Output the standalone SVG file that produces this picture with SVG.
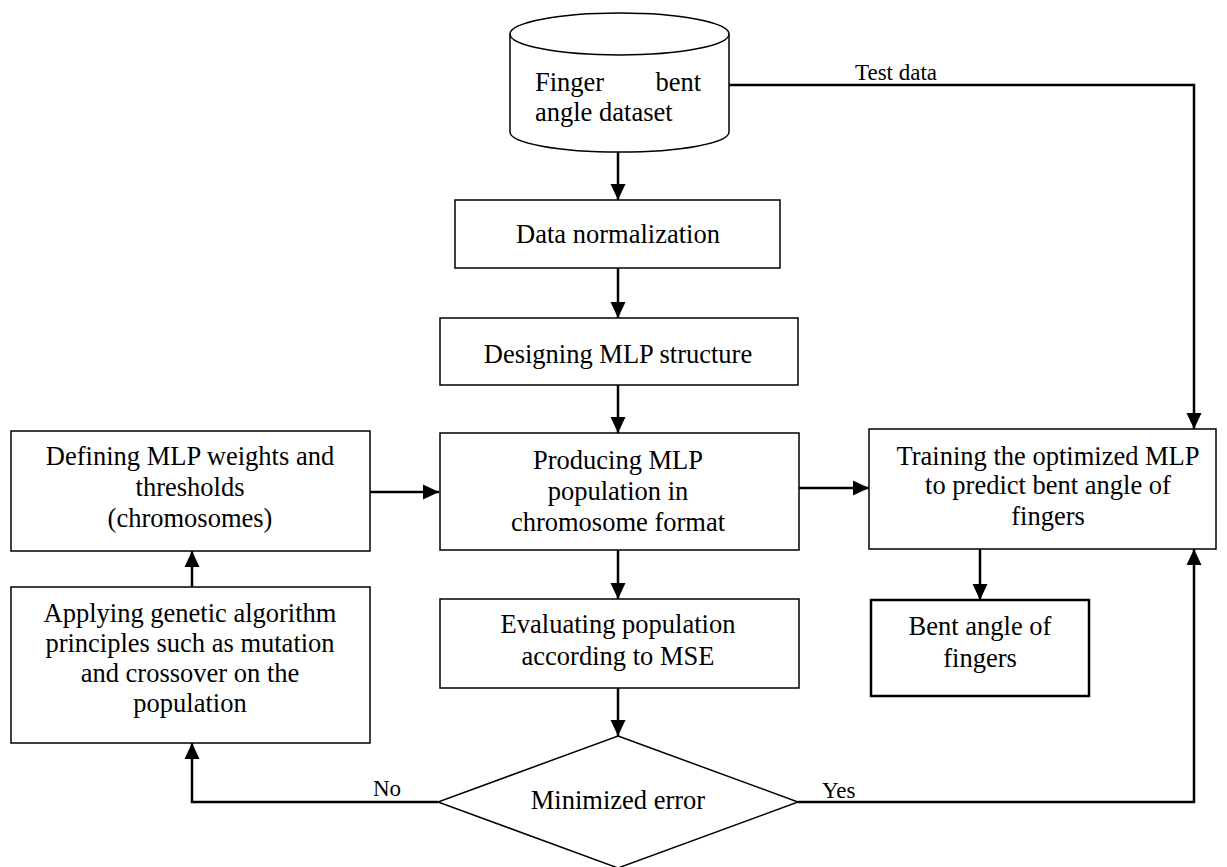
<svg xmlns="http://www.w3.org/2000/svg" width="1227" height="867" viewBox="0 0 1227 867">
<style>
.box{fill:#fff;stroke:#000;stroke-width:1.5}
.thick{stroke-width:2.5}
.t{font-family:"Liberation Serif","Times New Roman",serif;font-size:26.5px;fill:#000;text-anchor:middle}
.l{font-family:"Liberation Serif","Times New Roman",serif;font-size:23px;fill:#000}
.c{fill:none;stroke:#000;stroke-width:2.5}
</style>
<defs>
<marker id="ah" markerUnits="userSpaceOnUse" markerWidth="16" markerHeight="16" refX="16" refY="8" orient="auto">
<path d="M0,0.5 L16,8 L0,15.5 z" fill="#000"/>
</marker>
</defs>
<rect width="1227" height="867" fill="#fff"/>
<g id="connectors">
<line class="c" x1="618" y1="152" x2="618" y2="200" marker-end="url(#ah)"/>
<line class="c" x1="618" y1="268" x2="618" y2="318" marker-end="url(#ah)"/>
<line class="c" x1="618" y1="385" x2="618" y2="433" marker-end="url(#ah)"/>
<line class="c" x1="370" y1="492" x2="439" y2="492" marker-end="url(#ah)"/>
<line class="c" x1="192" y1="587" x2="192" y2="551" marker-end="url(#ah)"/>
<line class="c" x1="799" y1="488" x2="869" y2="488" marker-end="url(#ah)"/>
<line class="c" x1="618" y1="550" x2="618" y2="599" marker-end="url(#ah)"/>
<line class="c" x1="618" y1="688" x2="618" y2="736" marker-end="url(#ah)"/>
<line class="c" x1="980" y1="549" x2="980" y2="600" marker-end="url(#ah)"/>
<polyline class="c" points="729,85 1194,85 1194,429" marker-end="url(#ah)"/>
<polyline class="c" points="438,802 192,802 192,743" marker-end="url(#ah)"/>
<polyline class="c" points="798,802 1194,802 1194,549" marker-end="url(#ah)"/>
<text class="l" x="855" y="80">Test data</text>
<text class="l" x="373" y="796">No</text>
<text class="l" x="822" y="798">Yes</text>
</g>
<g id="dataset">
<path class="box" d="M510,34 L510,132 A109.5,20 0 0 0 729,132 L729,34"/>
<ellipse class="box" cx="619.5" cy="34" rx="109.5" ry="21"/>
<text class="t" x="535" y="91" style="text-anchor:start">Finger</text>
<text class="t" x="701" y="91" style="text-anchor:end">bent</text>
<text class="t" x="535" y="121" style="text-anchor:start">angle dataset</text>
</g>
<g id="normalization">
<rect class="box" x="455" y="200" width="325" height="68"/>
<text class="t" x="618" y="243">Data normalization</text>
</g>
<g id="designing">
<rect class="box" x="440" y="318" width="358" height="67"/>
<text class="t" x="618" y="363">Designing MLP structure</text>
</g>
<g id="producing">
<rect class="box" x="440" y="433" width="359" height="117"/>
<text class="t" x="618" y="469">Producing MLP</text>
<text class="t" x="618" y="500">population in</text>
<text class="t" x="618" y="531">chromosome format</text>
</g>
<g id="defining">
<rect class="box" x="11" y="431" width="359" height="120"/>
<text class="t" x="190" y="465">Defining MLP weights and</text>
<text class="t" x="190" y="496">thresholds</text>
<text class="t" x="190" y="527">(chromosomes)</text>
</g>
<g id="applying">
<rect class="box" x="11" y="587" width="359" height="156"/>
<text class="t" x="190" y="622">Applying genetic algorithm</text>
<text class="t" x="190" y="652">principles such as mutation</text>
<text class="t" x="190" y="682">and crossover on the</text>
<text class="t" x="190" y="712">population</text>
</g>
<g id="evaluating">
<rect class="box" x="440" y="599" width="359" height="89"/>
<text class="t" x="618" y="633">Evaluating population</text>
<text class="t" x="618" y="665">according to MSE</text>
</g>
<g id="decision">
<polygon class="box" points="618,736 798,802 618,868 438,802"/>
<text class="t" x="618" y="809">Minimized error</text>
</g>
<g id="training">
<rect class="box" x="869" y="429" width="347" height="120"/>
<text class="t" x="1048" y="465">Training the optimized MLP</text>
<text class="t" x="1048" y="494">to predict bent angle of</text>
<text class="t" x="1048" y="525">fingers</text>
</g>
<g id="output">
<rect class="box thick" x="871" y="600" width="218" height="96"/>
<text class="t" x="980" y="635">Bent angle of</text>
<text class="t" x="980" y="667">fingers</text>
</g>
</svg>
